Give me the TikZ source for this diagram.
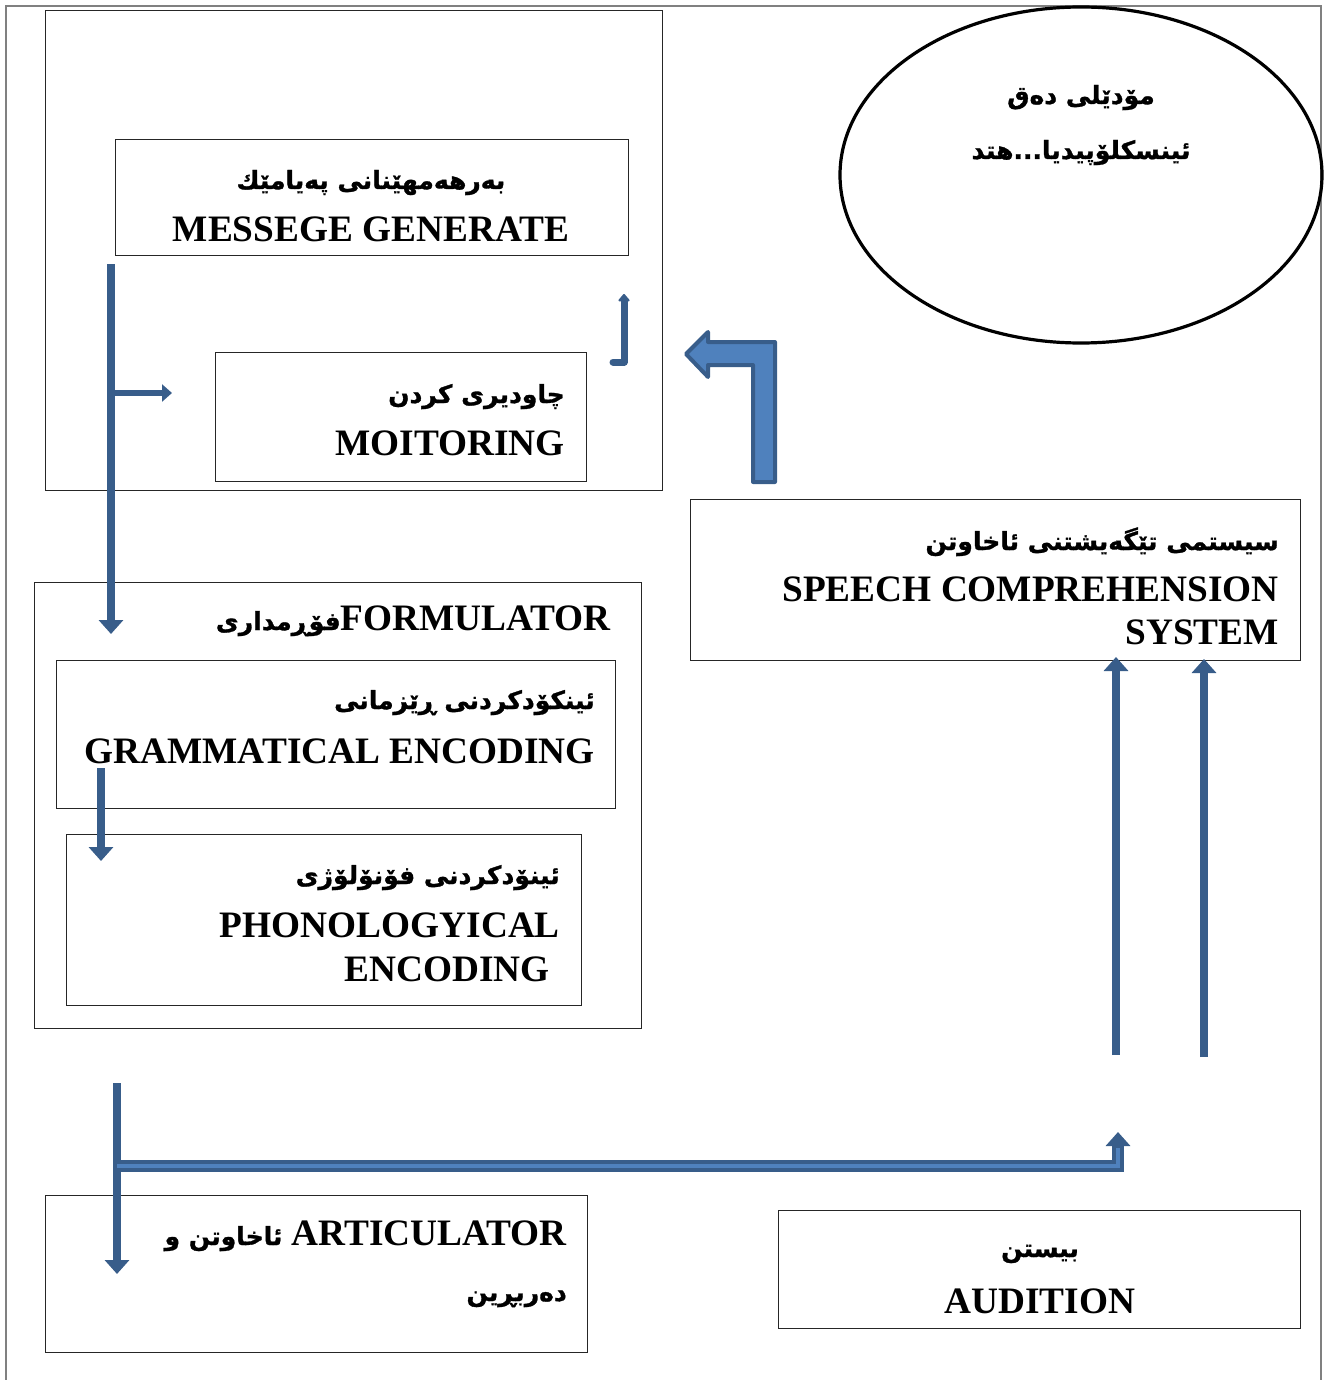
\documentclass[tikz,border=0pt]{standalone}
\usepackage{fontspec}
\setmainfont{Liberation Serif}
\newfontfamily\arabicfont[Script=Arabic, BoldFeatures={FakeBold=1.2}]{DejaVu Sans}
\TeXXeTstate=1
\usetikzlibrary{arrows.meta,shapes.geometric}
\definecolor{arrowblue}{RGB}{56,93,138}
\definecolor{fillblue}{RGB}{79,129,189}
\newcommand\kurtxt[1]{{\arabicfont\bfseries\fontsize{25}{30}\selectfont\beginR #1\endR}}
\tikzset{
  boxnode/.style={draw=black!85, line width=1.3pt, rectangle, inner sep=0pt, anchor=north west},
  lat/.style={font=\fontsize{37.3}{44}\selectfont\bfseries, inner sep=0pt},
  ara/.style={font=\arabicfont\bfseries\fontsize{25}{30}\selectfont, inner sep=0pt},
  barrow/.style={draw=arrowblue, line width=8pt, -{Triangle[width=24pt,length=14pt]}},
}
\begin{document}
\begin{tikzpicture}[x=1pt,y=-1pt]
\useasboundingbox (0,0) rectangle (1327,1380);
% page frame
\draw[gray, line width=1.5pt] (6,1385) -- (6,6) -- (1321,6) -- (1321,1385);

% boxes
\node[boxnode, minimum width=617pt, minimum height=480pt] (gen) at (45,10) {};
\node[boxnode, minimum width=513pt, minimum height=116pt] (msg) at (115,139) {};
\node[boxnode, minimum width=371pt, minimum height=129pt] (mon) at (215,352) {};
\node[draw=black, line width=3.2pt, ellipse, minimum width=482pt, minimum height=336pt, inner sep=0pt] (model) at (1081,175) {};
\node[boxnode, minimum width=610pt, minimum height=161pt] (speech) at (690,499) {};
\node[boxnode, minimum width=607pt, minimum height=446pt] (form) at (34,582) {};
\node[boxnode, minimum width=559pt, minimum height=148pt] (gram) at (56,660) {};
\node[boxnode, minimum width=515pt, minimum height=171pt] (phon) at (66,834) {};
\node[boxnode, minimum width=542pt, minimum height=157pt] (artic) at (45,1195) {};
\node[boxnode, minimum width=522pt, minimum height=118pt] (aud) at (778,1210) {};

% texts
\node[ara, anchor=base] (msgA) at (371,189) {\beginR بەرهەمهێنانی پەیامێك\endR};
\node[lat, anchor=base] (msgL) at (371,242) {MESSEGE GENERATE};
\node[ara, anchor=base east] (monA) at (565,403) {\beginR چاودیری کردن\endR};
\node[lat, anchor=base east] (monL) at (565,455) {MOITORING};
\node[ara, anchor=base] (modA) at (1081,104) {\beginR مۆدێلی دەق\endR};
\node[ara, anchor=base] (modB) at (1081,159) {\beginR ئینسکلۆپیدیا...هتد\endR};
\node[ara, anchor=base east] (spA) at (1279,550) {\beginR سیستمی تێگەیشتنی ئاخاوتن\endR};
\node[lat, anchor=base east] (spL) at (1279,601) {SPEECH COMPREHENSION};
\node[lat, anchor=base east] (spM) at (1279,644) {SYSTEM};
\node[lat, anchor=base east] (formL) at (611,630) {\kurtxt{فۆڕمداری}FORMULATOR};
\node[ara, anchor=base east] (gramA) at (595,709) {\beginR ئینکۆدکردنی ڕێزمانی\endR};
\node[lat, anchor=base east] (gramL) at (595,763) {GRAMMATICAL ENCODING};
\node[ara, anchor=base east] (phonA) at (560,884) {\beginR ئینۆدکردنی فۆنۆلۆژی\endR};
\node[lat, anchor=base east] (phonL) at (560,937) {PHONOLOGYICAL};
\node[lat, anchor=base east] (phonM) at (550,981) {ENCODING};
\node[lat, anchor=base east] (artL) at (567,1245) {\kurtxt{ئاخاوتن و} ARTICULATOR};
\node[ara, anchor=base east] (artA) at (567,1301) {\beginR دەربڕین\endR};
\node[ara, anchor=base] (audA) at (1040,1257) {\beginR بیستن\endR};
\node[lat, anchor=base] (audL) at (1040,1313) {AUDITION};

% connector coordinates
\coordinate (a1s) at (111,264);
\coordinate (a1e) at (111,634);
\coordinate (a1b) at (111,393);
\coordinate (a1t) at (172,393);
\coordinate (a2s) at (101,768);
\coordinate (a2e) at (101,861);
\coordinate (a3s) at (117,1083);
\coordinate (a3e) at (117,1274);
\coordinate (h1) at (117,1166);
\coordinate (h2) at (1118,1166);
\coordinate (h3) at (1118,1132);
\coordinate (u1s) at (1116,1055);
\coordinate (u1e) at (1116,657);
\coordinate (u2s) at (1204,1057);
\coordinate (u2e) at (1204,659);
\coordinate (e1) at (613,362);
\coordinate (e2) at (624,362);
\coordinate (e3) at (624,294);

% arrows
\draw[barrow] (a1s) -- (a1e);
\draw[draw=arrowblue, line width=6pt, -{Triangle[width=17pt,length=10pt]}] (a1b) -- (a1t);
\draw[barrow] (a2s) -- (a2e);
\draw[barrow] (a3s) -- (a3e);
\draw[draw=arrowblue, line width=12pt, line join=miter, -{Triangle[width=24pt,length=14pt]}] (h1) -- (h2) -- (h3);
\draw[draw=fillblue, line width=4pt, line join=miter, shorten >=16pt] (h1) -- (h2) -- (h3);
\draw[barrow] (u1s) -- (u1e);
\draw[barrow] (u2s) -- (u2e);
\draw[draw=arrowblue, line width=7pt, line cap=round, line join=round, -{Triangle[width=13pt,length=8pt,round]}] (e1) -- (e2) -- (e3);

% block bent arrow
\draw[draw=arrowblue, fill=fillblue, line width=4pt, line join=round]
  (686,354) -- (708,332) -- (708,342) -- (775,342) -- (775,482) -- (753,482) -- (753,365) -- (708,365) -- (708,377) -- cycle;
\end{tikzpicture}
\end{document}
